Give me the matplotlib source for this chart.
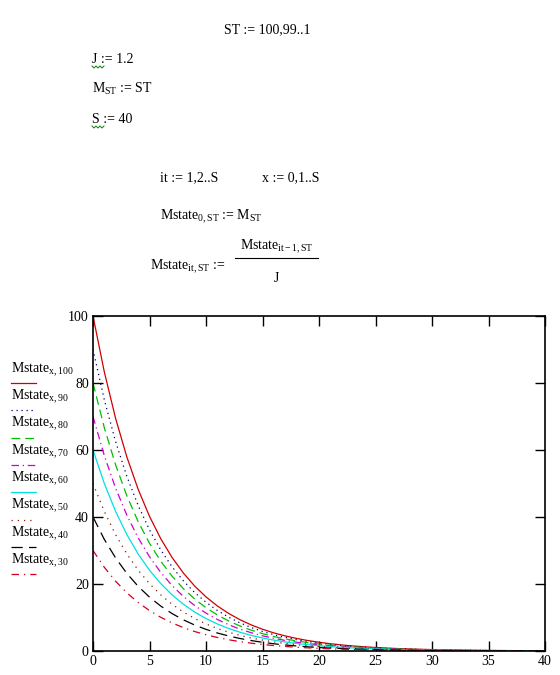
import matplotlib
matplotlib.use("Agg")
import matplotlib.pyplot as plt
from matplotlib.lines import Line2D

plt.rcParams['font.family'] = ['Liberation Serif', 'DejaVu Serif']
plt.rcParams['mathtext.fontset'] = 'custom'
plt.rcParams['mathtext.rm'] = 'Liberation Serif'
plt.rcParams['mathtext.it'] = 'Liberation Serif'

W, H = 560, 675

x = list(range(41))
m100 = [100, 83.33, 69.44, 57.87, 48.23, 40.19, 33.49, 27.91, 23.26, 19.38, 16.15, 13.46, 11.22, 9.35,
        7.79, 6.49, 5.41, 4.51, 3.76, 3.13, 2.61, 2.17, 1.81, 1.51, 1.26, 1.05, 0.87, 0.73, 0.61, 0.51,
        0.42, 0.35, 0.29, 0.24, 0.20, 0.17, 0.14, 0.12, 0.10, 0.08, 0.07]
m90 = [90, 75.0, 62.5, 52.08, 43.4, 36.17, 30.14, 25.12, 20.93, 17.44, 14.54, 12.11, 10.1, 8.41,
       7.01, 5.84, 4.87, 4.06, 3.38, 2.82, 2.35, 1.95, 1.63, 1.36, 1.13, 0.94, 0.78, 0.66, 0.55, 0.46,
       0.38, 0.32, 0.26, 0.22, 0.18, 0.15, 0.13, 0.11, 0.09, 0.07, 0.06]
m80 = [80, 66.67, 55.56, 46.30, 38.58, 32.15, 26.79, 22.33, 18.61, 15.50, 12.92, 10.77, 8.97, 7.48,
       6.23, 5.19, 4.33, 3.61, 3.01, 2.50, 2.09, 1.74, 1.45, 1.21, 1.01, 0.84, 0.70, 0.58, 0.49, 0.41,
       0.34, 0.28, 0.23, 0.19, 0.16, 0.14, 0.11, 0.10, 0.08, 0.06, 0.06]
m70 = [70, 58.33, 48.61, 40.51, 33.76, 28.13, 23.44, 19.54, 16.28, 13.57, 11.31, 9.42, 7.85, 6.54,
       5.45, 4.54, 3.79, 3.16, 2.63, 2.19, 1.83, 1.52, 1.27, 1.06, 0.88, 0.73, 0.61, 0.51, 0.43, 0.36,
       0.29, 0.25, 0.20, 0.17, 0.14, 0.12, 0.10, 0.08, 0.07, 0.06, 0.05]
m60 = [60, 50.0, 41.67, 34.72, 28.94, 24.11, 20.09, 16.74, 13.95, 11.63, 9.69, 8.08, 6.73, 5.61,
       4.67, 3.89, 3.25, 2.71, 2.26, 1.88, 1.57, 1.30, 1.09, 0.91, 0.76, 0.63, 0.52, 0.44, 0.37, 0.31,
       0.25, 0.21, 0.17, 0.14, 0.12, 0.10, 0.08, 0.07, 0.06, 0.05, 0.04]
m50 = [50, 41.67, 34.72, 28.94, 24.11, 20.09, 16.74, 13.95, 11.63, 9.69, 8.08, 6.73, 5.61, 4.67,
       3.89, 3.25, 2.71, 2.26, 1.88, 1.57, 1.30, 1.09, 0.91, 0.76, 0.63, 0.52, 0.44, 0.37, 0.30, 0.25,
       0.21, 0.18, 0.15, 0.12, 0.10, 0.08, 0.07, 0.06, 0.05, 0.04, 0.03]
m40 = [40, 33.33, 27.78, 23.15, 19.29, 16.08, 13.40, 11.16, 9.30, 7.75, 6.46, 5.38, 4.49, 3.74,
       3.12, 2.60, 2.16, 1.80, 1.50, 1.25, 1.04, 0.87, 0.72, 0.60, 0.50, 0.42, 0.35, 0.29, 0.24, 0.20,
       0.17, 0.14, 0.12, 0.10, 0.08, 0.07, 0.06, 0.05, 0.04, 0.03, 0.03]
m30 = [30, 25.0, 20.83, 17.36, 14.47, 12.06, 10.05, 8.37, 6.98, 5.81, 4.85, 4.04, 3.36, 2.80,
       2.34, 1.95, 1.62, 1.35, 1.13, 0.94, 0.78, 0.65, 0.54, 0.45, 0.38, 0.31, 0.26, 0.22, 0.18, 0.15,
       0.13, 0.11, 0.09, 0.07, 0.06, 0.05, 0.04, 0.04, 0.03, 0.03, 0.02]

series = [m100, m90, m80, m70, m60, m50, m40, m30]
labels = ['100', '90', '80', '70', '60', '50', '40', '30']
colors = ['#d00000', '#000080', '#00c000', '#d000d0', '#00e0e0', '#802000', '#000000', '#d00020']
styles = ['-', (0, (1, 3)), (0, (7, 4)), (0, (6, 3, 1, 3)), '-', (0, (1, 4)), (0, (9, 5)), (0, (6, 4, 1, 4))]

fig = plt.figure(figsize=(W / 100, H / 100), dpi=100)


def fx(px):
    return px / W


def fy(py):
    return 1 - py / H


fs = 10

# worksheet text
fig.text(fx(224), fy(33), 'ST := 100,99..1', fontsize=fs, va='baseline')
fig.text(fx(92), fy(63), 'J := 1.2', fontsize=fs, va='baseline')
fig.text(fx(92), fy(93), r'$\mathrm{M}_{\mathrm{ST}}$ := ST', fontsize=fs, va='baseline')
fig.text(fx(92), fy(123), 'S := 40', fontsize=fs, va='baseline')
fig.text(fx(160), fy(181), 'it := 1,2..S', fontsize=fs, va='baseline')
fig.text(fx(262), fy(181), 'x := 0,1..S', fontsize=fs, va='baseline')
fig.text(fx(160), fy(220), r'$\mathrm{Mstate}_{\mathrm{0,ST}}$ := $\mathrm{M}_{\mathrm{ST}}$',
         fontsize=fs, va='baseline')
fig.text(fx(150), fy(270), r'$\mathrm{Mstate}_{\mathrm{it,ST}}$ :=', fontsize=fs, va='baseline')
fig.text(fx(277), fy(250), r'$\mathrm{Mstate}_{\mathrm{it-1,ST}}$', fontsize=fs, va='baseline', ha='center')
fig.add_artist(Line2D([fx(235), fx(318)], [fy(258), fy(258)], color='black', lw=0.8,
                      transform=fig.transFigure))
fig.text(fx(276), fy(282), 'J', fontsize=fs, va='baseline', ha='center')

# wavy underlines
for yy in (66, 126):
    zx = [92, 94, 96, 98, 100, 102, 104]
    zy = [yy, yy + 2, yy, yy + 2, yy, yy + 2, yy]
    fig.add_artist(Line2D([fx(v) for v in zx], [fy(v) for v in zy], color='#008000', lw=0.7,
                          transform=fig.transFigure))

# plot
ax = fig.add_axes([fx(93), fy(651), fx(545) - fx(93), fy(316) - fy(651)])
for vals, c, s in zip(series, colors, styles):
    ax.plot(x, vals, color=c, linestyle=s, lw=0.9)

ax.set_xlim(0, 40)
ax.set_ylim(0, 100)
ax.set_xticks(range(0, 41, 5))
ax.set_yticks(range(0, 101, 20))
ax.tick_params(direction='in', length=7, width=1, top=True, right=True, labelsize=fs, pad=3,
               color='black')
for sp in ax.spines.values():
    sp.set_linewidth(1.2)

# legend on the left
for i, (lab, c, s) in enumerate(zip(labels, colors, styles)):
    ty = 373 + i * 27.3
    fig.text(fx(11), fy(ty), r'$\mathrm{Mstate}_{\mathrm{x,' + lab + '}}$', fontsize=fs, va='baseline')
    fig.add_artist(Line2D([fx(11), fx(36)], [fy(ty + 10), fy(ty + 10)], color=c, linestyle=s, lw=0.9,
                          transform=fig.transFigure))

fig.savefig('out.png', dpi=100)
